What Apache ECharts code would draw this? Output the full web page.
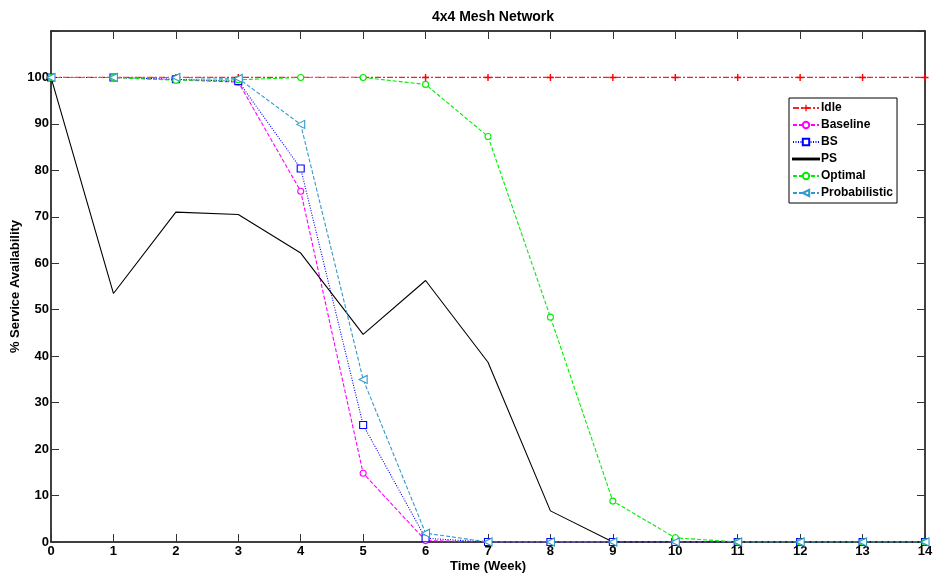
<!DOCTYPE html>
<html>
<head>
<meta charset="utf-8">
<script src="https://cdn.jsdelivr.net/npm/echarts@6/dist/echarts.min.js"></script>
<style>
  html, body { margin: 0; padding: 0; background: #fff; }
  #chart { width: 933px; height: 578px; }
</style>
</head>
<body>
<div id="chart"></div>
<script>
// Weeks on the x axis
const weeks = [0, 1, 2, 3, 4, 5, 6, 7, 8, 9, 10, 11, 12, 13, 14];

// % service availability per week for each scheme
const idle          = [100, 100, 100, 100, 100, 100, 100, 100, 100, 100, 100, 100, 100, 100, 100];
const baseline      = [100, 100, 99.5, 99, 75.5, 14.8, 0.3, 0, 0, 0, 0, 0, 0, 0, 0];
const bs            = [100, 100, 99.6, 99.2, 80.4, 25.2, 0.8, 0, 0, 0, 0, 0, 0, 0, 0];
const ps            = [100, 53.5, 71, 70.5, 62.2, 44.7, 56.3, 38.7, 6.7, 0, 0, 0, 0, 0, 0];
const optimal       = [100, 100, 99.4, 99.5, 100, 100, 98.5, 87.3, 48.4, 8.8, 0.9, 0, 0, 0, 0];
const probabilistic = [100, 100, 100, 99.8, 89.9, 35, 1.9, 0, 0, 0, 0, 0, 0, 0, 0];

const seriesNames = ['Idle', 'Baseline', 'BS', 'PS', 'Optimal', 'Probabilistic'];

const pairs = arr => weeks.map((w, i) => [w, arr[i]]);

const FONT = '"Liberation Sans", Arial, sans-serif';
const plusPath = 'path://M4,0h2v4h4v2h-4v4h-2v-4h-4v-2h4z';

function makeSeries(name, data, color, lineType, symbol, size, extra) {
  return Object.assign({
    name: name,
    type: 'line',
    data: pairs(data),
    symbol: symbol,
    symbolSize: size,
    showSymbol: symbol !== 'none',
    lineStyle: { color: color, width: 1.1, type: lineType },
    itemStyle: { color: '#fff', borderColor: color, borderWidth: 1.1 },
    emphasis: { disabled: true },
    animation: false,
    z: 3
  }, extra || {});
}

const series = [
  makeSeries('Idle', idle, '#ff0000', [6, 2, 2, 2], plusPath, 7,
    { itemStyle: { color: '#ff0000', borderWidth: 0 },
      lineStyle: { color: '#ff2020', width: 1.3, type: [6, 2, 2, 2] } }),
  makeSeries('Baseline', baseline, '#ff00ff', [4, 2], 'circle', 6),
  makeSeries('BS', bs, '#0000ff', [1, 1.5], 'rect', 7),
  makeSeries('PS', ps, '#000000', 'solid', 'none', 0),
  makeSeries('Optimal', optimal, '#00ee00', [4, 2], 'circle', 6),
  makeSeries('Probabilistic', probabilistic, '#3399cc', [4, 2], 'triangle', 8,
    { symbolRotate: 90 })
];

const axisLine = { show: true, onZero: false, lineStyle: { color: '#000', width: 1.5 } };
const axisTick = { show: true, inside: true, length: 8, lineStyle: { color: '#333', width: 1 } };
const labelStyle = { color: '#000', fontFamily: FONT, fontWeight: 'bold', fontSize: 13 };

const legendData = seriesNames.map(n => n === 'PS'
  ? { name: n, icon: 'path://M0,0h30v1h-30z', itemStyle: { color: '#000' } }
  : { name: n });

const chart = echarts.init(document.getElementById('chart'), null, { renderer: 'canvas' });
chart.setOption({
  backgroundColor: '#fff',
  animation: false,
  title: {
    text: '4x4 Mesh Network',
    left: 488,
    top: 5,
    textAlign: 'center',
    textStyle: { color: '#000', fontFamily: FONT, fontWeight: 'bold', fontSize: 14 }
  },
  grid: { left: 51, right: 8, top: 31, bottom: 36, containLabel: false, outerBoundsMode: 'none' },
  legend: {
    data: legendData,
    orient: 'vertical',
    left: 789,
    top: 98,
    padding: [3, 4, 3, 3],
    itemGap: 3,
    itemWidth: 26,
    itemHeight: 8,
    backgroundColor: '#fff',
    borderColor: '#000',
    borderWidth: 1,
    borderRadius: 0,
    selectedMode: false,
    textStyle: { color: '#000', fontFamily: FONT, fontWeight: 'bold', fontSize: 12, lineHeight: 14, padding: [0, 0, 0, -3] }
  },
  xAxis: [
    {
      type: 'value', min: 0, max: 14, interval: 1, position: 'bottom',
      name: 'Time (Week)', nameLocation: 'middle', nameGap: 18, nameMoveOverlap: false,
      nameTextStyle: labelStyle,
      axisLine: axisLine, axisTick: axisTick,
      axisLabel: Object.assign({ margin: 3 }, labelStyle),
      splitLine: { show: false }
    },
    {
      type: 'value', min: 0, max: 14, interval: 1, position: 'top',
      axisLine: axisLine, axisTick: axisTick,
      axisLabel: { show: false }, splitLine: { show: false }
    }
  ],
  yAxis: [
    {
      type: 'value', min: 0, max: 110, interval: 10, position: 'left',
      name: '% Service Availability', nameLocation: 'middle', nameGap: 29, nameMoveOverlap: false,
      nameTextStyle: labelStyle,
      axisLine: axisLine, axisTick: axisTick,
      axisLabel: Object.assign({ margin: 2, formatter: v => (v > 100 ? '' : String(v)) }, labelStyle),
      splitLine: { show: false }
    },
    {
      type: 'value', min: 0, max: 110, interval: 10, position: 'right',
      axisLine: axisLine, axisTick: axisTick,
      axisLabel: { show: false }, splitLine: { show: false }
    }
  ],
  series: series
});
</script>
</body>
</html>
